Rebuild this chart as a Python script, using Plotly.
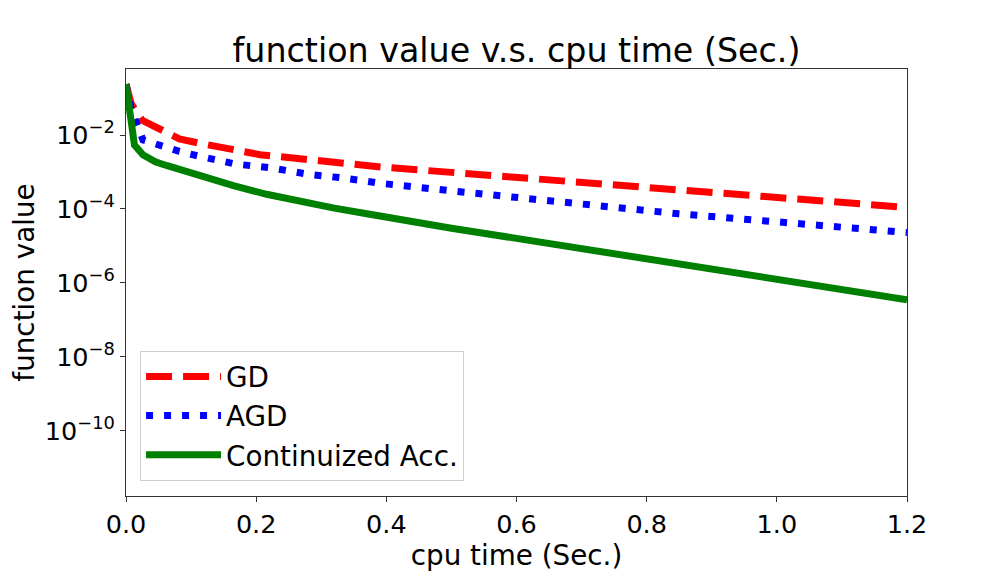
import plotly.graph_objects as go

# cpu time (sec) and function value
gd_time = [0, 0.008, 0.025, 0.051, 0.082, 0.113, 0.149, 0.206, 0.257, 0.318, 0.396,
           0.5, 0.6, 0.73, 0.834, 1.003, 1.2]
gd_value = [0.24, 0.0708, 0.0251, 0.0141, 0.00794, 0.00603, 0.00447, 0.00295, 0.0024,
            0.00178, 0.00135, 9.8e-4, 7.1e-4, 4.7e-4, 3.4e-4, 2.04e-4, 1.1e-4]

agd_time = [0, 0.008, 0.026, 0.054, 0.082, 0.110, 0.167, 0.224, 0.280, 0.337, 0.394,
            0.5, 0.6, 0.735, 0.849, 0.962, 1.075, 1.2]
agd_value = [0.24, 0.0513, 0.00741, 0.0049, 0.00363, 0.00275, 0.00166, 0.00129, 8.7e-4,
             6.8e-4, 4.9e-4, 3.1e-4, 2.0e-4, 1.12e-4, 7.4e-5, 5.1e-5, 3.5e-5, 2.3e-5]

cacc_time = [0, 0.005, 0.010, 0.013, 0.026, 0.045, 0.062, 0.113, 0.165, 0.216, 0.267,
             0.318, 0.370, 0.422, 0.5, 0.6, 0.73, 0.885, 1.039, 1.2]
cacc_value = [0.24, 0.0417, 0.01, 0.0054, 0.00295, 0.0019, 0.00151, 7.8e-4, 4.3e-4,
              2.5e-4, 1.6e-4, 1.07e-4, 7.4e-5, 5.0e-5, 3.0e-5, 1.6e-5, 7.1e-6, 2.6e-6,
              1.0e-6, 3.5e-7]

x_ticks = [0.0, 0.2, 0.4, 0.6, 0.8, 1.0, 1.2]
x_ticktext = ["0.0", "0.2", "0.4", "0.6", "0.8", "1.0", "1.2"]
y_ticks = [1e-2, 1e-4, 1e-6, 1e-8, 1e-10]
y_ticktext = ["10<sup>\u22122</sup>", "10<sup>\u22124</sup>", "10<sup>\u22126</sup>",
              "10<sup>\u22128</sup>", "10<sup>\u221210</sup>"]

FONT = "DejaVu Sans"

fig = go.Figure()
fig.add_trace(go.Scatter(x=gd_time, y=gd_value, mode="lines", name="GD",
                         line=dict(color="#ff0000", width=7, dash="26px,11px")))
fig.add_trace(go.Scatter(x=agd_time, y=agd_value, mode="lines", name="AGD",
                         line=dict(color="#0000ff", width=7, dash="7px,11px")))
fig.add_trace(go.Scatter(x=cacc_time, y=cacc_value, mode="lines", name="Continuized Acc.",
                         line=dict(color="#008000", width=7)))

# page body has an 8px margin, so the figure is 8px smaller and margins shifted
fig.update_layout(
    width=1000, height=568,
    margin=dict(l=118, r=101, t=61, b=72),
    paper_bgcolor="white", plot_bgcolor="white",
    font=dict(family=FONT, color="black", size=25.5),
    title=dict(text="function value v.s. cpu time (Sec.)", font=dict(size=33.3),
               x=0.5, xref="paper", xanchor="center",
               y=1 - 42 / 568, yref="container", yanchor="middle"),
    legend=dict(x=0.018, y=0.34, xanchor="left", yanchor="top",
                bgcolor="rgba(255,255,255,0.8)", bordercolor="#d0d0d0", borderwidth=1,
                font=dict(size=27.8), itemwidth=75),
    showlegend=True,
)
fig.update_xaxes(range=[0, 1.2], tickvals=x_ticks, ticktext=x_ticktext,
                 showgrid=False, zeroline=False, showline=True, mirror=True,
                 linecolor="#333333", linewidth=1, ticks="outside", ticklen=5,
                 tickcolor="#333333",
                 title=dict(text="cpu time (Sec.)", standoff=6, font=dict(size=27.8)))
fig.update_yaxes(type="log", range=[-11.77, -0.21], tickvals=y_ticks, ticktext=y_ticktext,
                 showgrid=False, zeroline=False, showline=True, mirror=True,
                 linecolor="#333333", linewidth=1, ticks="outside", ticklen=5,
                 tickcolor="#333333",
                 title=dict(text="function value", standoff=4, font=dict(size=27.8)))

fig.write_html("out.html")
